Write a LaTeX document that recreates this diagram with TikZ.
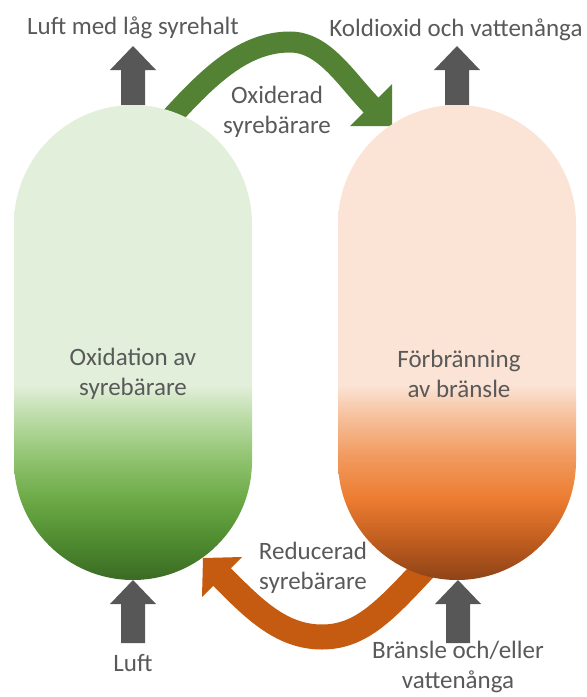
\documentclass[tikz,border=0pt]{standalone}
\usepackage{fontspec}
\setmainfont{Carlito}
\usetikzlibrary{calc}

\definecolor{textgray}{HTML}{595959}
\definecolor{arrowgray}{HTML}{575757}
\definecolor{oxarrow}{HTML}{548235}
\definecolor{redarrow}{HTML}{C55A11}
\definecolor{oxlight}{HTML}{E2EFDA}
\definecolor{oxpale}{HTML}{BADBA5}
\definecolor{oxsoft}{HTML}{92C472}
\definecolor{oxmid}{HTML}{6CAA46}
\definecolor{oxdeep}{HTML}{4E8A2F}
\definecolor{oxdark}{HTML}{3B6A24}
\definecolor{brlight}{HTML}{FBE3D5}
\definecolor{brpale}{HTML}{F6BE98}
\definecolor{brsoft}{HTML}{F19A5E}
\definecolor{brmid}{HTML}{EC7C30}
\definecolor{brdeep}{HTML}{BE5C1F}
\definecolor{brdark}{HTML}{8E4317}

% bottom of the vessel = 25bp, top = 75bp
\pgfdeclareverticalshading{oxshade}{100bp}{color(0bp)=(oxdark); color(25bp)=(oxdark); color(29bp)=(oxdeep); color(33.5bp)=(oxmid); color(38bp)=(oxsoft); color(42bp)=(oxpale); color(45.5bp)=(oxlight); color(100bp)=(oxlight)}
\pgfdeclareverticalshading{brshade}{100bp}{color(0bp)=(brdark); color(25bp)=(brdark); color(29bp)=(brdeep); color(33.5bp)=(brmid); color(38bp)=(brsoft); color(42bp)=(brpale); color(45.5bp)=(brlight); color(100bp)=(brlight)}

\tikzset{
  lbl/.style={text=textgray, font=\fontsize{25}{30}\selectfont, align=center, inner sep=0pt},
  oxband/.style={draw=oxarrow, line width=21pt},
  redband/.style={draw=redarrow, line width=25pt},
  grayflow/.style={fill=arrowgray}
}

% block arrow pointing up: #1 = foot, #2 = tip
\newcommand{\flowup}[2]{%
  \fill[grayflow] ($(#1)+(-12,0)$) -- ($(#2)+(-12,24)$) -- ($(#2)+(-23,24)$) -- (#2)
    -- ($(#2)+(23,24)$) -- ($(#2)+(12,24)$) -- ($(#1)+(12,0)$) -- cycle;}

\begin{document}
\begin{tikzpicture}[x=1pt,y=-1pt]
    \useasboundingbox (0,0) rectangle (587,697);

    %Coordinates of the two vessels
    \coordinate (oxtop) at (133,224);
    \coordinate (oxbot) at (133,461);
    \coordinate (brtop) at (457,224);
    \coordinate (brbot) at (457,461);

    %Curved Arrow: oxiderad syrebaerare
    \coordinate (oxout) at (158,132);
    \coordinate (oxpeak) at (290,42);
    \coordinate (oxbase) at (371,105);
    \coordinate (oxtip) at (392,126);
    \draw [oxband] (oxout) .. controls (203,82) and (240,42) .. (oxpeak)
        .. controls (325,42) and (347,81) .. ($(oxbase)+(2,2)$);
    \fill [oxarrow] ($(oxbase)+(21,-21)$) -- (oxtip) -- ($(oxbase)+(-21,21)$) -- cycle;

    %Curved Arrow: reducerad syrebaerare
    \coordinate (redout) at (440,552);
    \coordinate (redlow) at (322,637);
    \coordinate (redbase) at (222,577);
    \coordinate (redtip) at (203,558);
    \draw [redband] (redout) .. controls (390,605) and (365,637) .. (redlow)
        .. controls (280,637) and (252,607) .. ($(redbase)+(-2,-2)$);
    \fill [redarrow] ($(redbase)+(20,-20)$) -- (redtip) -- ($(redbase)+(-20,20)$) -- cycle;

    %Block Arrows in and out
    \coordinate (luftutfoot) at (133,105);
    \coordinate (luftuttip) at (133,46);
    \coordinate (koldfoot) at (457,105);
    \coordinate (koldtip) at (457,46);
    \coordinate (luftfoot) at (133,643);
    \coordinate (lufttip) at (133,580);
    \coordinate (branfoot) at (458,643);
    \coordinate (brantip) at (458,580);
    \flowup{luftutfoot}{luftuttip}
    \flowup{koldfoot}{koldtip}
    \flowup{luftfoot}{lufttip}
    \flowup{branfoot}{brantip}

    %Shape: Vessel, oxidation
    \shade [shading=oxshade] ($(oxtop)+(-119,0)$) arc [start angle=180, end angle=360, radius=119]
        -- ($(oxbot)+(119,0)$) arc [start angle=0, end angle=180, radius=119] -- cycle;
    %Shape: Vessel, foerbraenning
    \shade [shading=brshade] ($(brtop)+(-119,0)$) arc [start angle=180, end angle=360, radius=119]
        -- ($(brbot)+(119,0)$) arc [start angle=0, end angle=180, radius=119] -- cycle;

    % Text Node
    \node [lbl, anchor=base] (luftut) at (133,34) {Luft med låg syrehalt};
    % Text Node
    \node [lbl, anchor=base] (koldiox) at (456,36) {Koldioxid och vattenånga};
    % Text Node
    \node [lbl] (oxsyre) at (277,112) {Oxiderad\\syrebärare};
    % Text Node
    \node [lbl] (redsyre) at (313,568) {Reducerad\\syrebärare};
    % Text Node
    \node [lbl] (oxtext) at (133,374) {Oxidation av\\syrebärare};
    % Text Node
    \node [lbl] (brtext) at (459,374) {Förbränning\\av bränsle};
    % Text Node
    \node [lbl, anchor=base] (luft) at (133,671) {Luft};
    % Text Node
    \node [lbl] (bransle) at (458,667) {Bränsle och/eller\\vattenånga};

\end{tikzpicture}
\end{document}
